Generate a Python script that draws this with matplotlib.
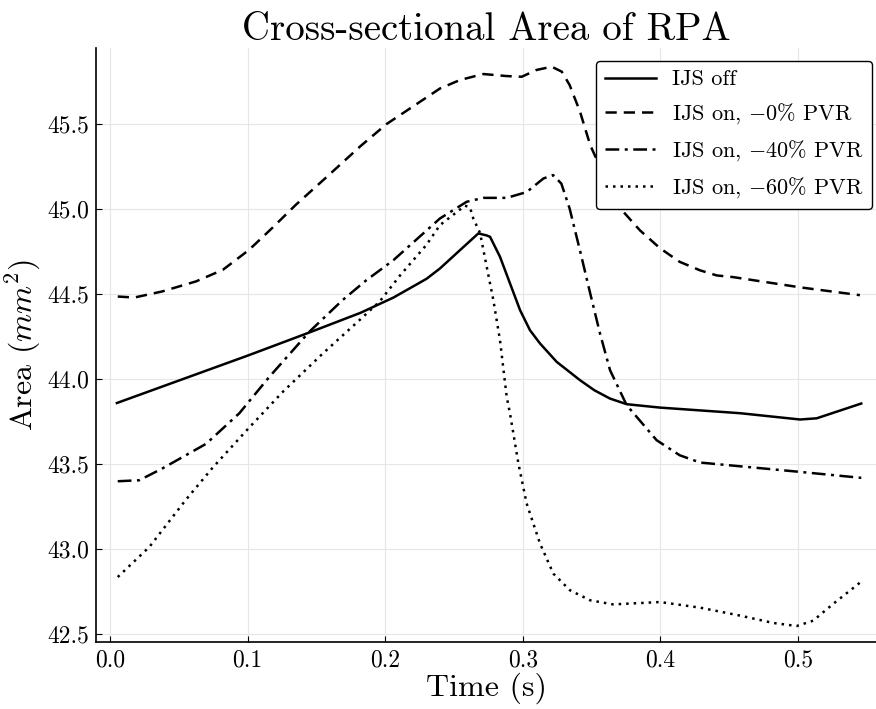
import numpy as np
import matplotlib.pyplot as plt

plt.rcParams["font.family"] = "serif"
plt.rcParams["font.serif"] = ["cmr10"]
plt.rcParams["mathtext.fontset"] = "cm"
plt.rcParams["axes.formatter.use_mathtext"] = True
plt.rcParams["axes.unicode_minus"] = True

# IJS off
t_off = [0.005, 0.1005, 0.145, 0.182, 0.206, 0.230, 0.2398, 0.2544, 0.2677, 0.2738,
         0.2762, 0.2834, 0.2907, 0.2980, 0.3052, 0.3125, 0.3246, 0.3416, 0.352, 0.3634,
         0.3755, 0.3997, 0.458, 0.5015, 0.5136, 0.546]
a_off = [43.86, 44.14, 44.275, 44.39, 44.48, 44.59, 44.651, 44.759, 44.857, 44.845,
         44.837, 44.72, 44.563, 44.406, 44.288, 44.21, 44.102, 43.994, 43.935, 43.886,
         43.853, 43.833, 43.80, 43.763, 43.77, 43.857]

# IJS on, -0% PVR
t_0 = [0.0056, 0.0177, 0.038, 0.0625, 0.082, 0.101, 0.118, 0.135, 0.159, 0.182,
       0.201, 0.2398, 0.2544, 0.2713, 0.2883, 0.2992, 0.310, 0.321, 0.3283, 0.334,
       0.3416, 0.349, 0.361, 0.372, 0.385, 0.3997, 0.414, 0.4288, 0.4409, 0.453,
       0.5015, 0.545]
a_0 = [44.486, 44.48, 44.516, 44.575, 44.643, 44.76, 44.89, 45.025, 45.20, 45.37,
       45.50, 45.709, 45.759, 45.794, 45.782, 45.778, 45.818, 45.837, 45.808, 45.73,
       45.572, 45.376, 45.16, 44.994, 44.876, 44.77, 44.69, 44.64, 44.61, 44.60,
       44.54, 44.494]

# IJS on, -40% PVR
t_40 = [0.0056, 0.0213, 0.038, 0.0698, 0.094, 0.1158, 0.145, 0.169, 0.186, 0.206,
        0.2398, 0.2592, 0.2713, 0.2883, 0.3028, 0.315, 0.322, 0.328, 0.334, 0.3416,
        0.349, 0.3561, 0.3634, 0.3755, 0.3973, 0.414, 0.4288, 0.5015, 0.546]
a_40 = [43.40, 43.406, 43.475, 43.62, 43.80, 44.014, 44.28, 44.465, 44.58, 44.70,
        44.945, 45.043, 45.066, 45.066, 45.10, 45.18, 45.20, 45.15, 45.004, 44.755,
        44.504, 44.269, 44.053, 43.847, 43.641, 43.553, 43.51, 43.455, 43.42]

# IJS on, -60% PVR
t_60 = [0.0056, 0.0286, 0.055, 0.0746, 0.1005, 0.1255, 0.1545, 0.1817, 0.196, 0.2108,
        0.230, 0.2398, 0.2580, 0.2616, 0.264, 0.2689, 0.2738, 0.2786, 0.2834, 0.2883,
        0.2907, 0.2968, 0.3028, 0.3125, 0.3222, 0.3343, 0.349, 0.3658, 0.3997, 0.4288,
        0.458, 0.482, 0.499, 0.511, 0.5257, 0.546]
a_60 = [42.837, 43.014, 43.29, 43.48, 43.71, 43.925, 44.15, 44.35, 44.457, 44.61,
        44.79, 44.906, 45.02, 45.01, 44.945, 44.86, 44.66, 44.465, 44.23, 43.896,
        43.798, 43.504, 43.269, 43.034, 42.857, 42.759, 42.70, 42.676, 42.69, 42.657,
        42.61, 42.567, 42.549, 42.58, 42.68, 42.81]

fig = plt.figure(figsize=(8.76, 7.09), dpi=100)
ax = fig.add_axes([96 / 876, 1 - 642 / 709, 1 - 96 / 876, (642 - 48) / 709])

lw = 1.8
ax.plot(t_off, a_off, color="black", lw=lw, ls="-", label="IJS off")
ax.plot(t_0, a_0, color="black", lw=lw, ls=(0, (4.5, 2.8)), label="IJS on, $-$0% PVR")
ax.plot(t_40, a_40, color="black", lw=lw, ls=(0, (5.5, 2.2, 1.2, 2.2)), label="IJS on, $-$40% PVR")
ax.plot(t_60, a_60, color="black", lw=lw, ls=(0, (1.0, 2.0)), label="IJS on, $-$60% PVR")

ax.set_xlim(-0.0102, 0.5567)
ax.set_ylim(42.455, 45.947)
ax.set_xticks([0.0, 0.1, 0.2, 0.3, 0.4, 0.5])
ax.set_yticks([42.5, 43.0, 43.5, 44.0, 44.5, 45.0, 45.5])
ax.set_xticklabels(["0.0", "0.1", "0.2", "0.3", "0.4", "0.5"])
ax.set_yticklabels(["42.5", "43.0", "43.5", "44.0", "44.5", "45.0", "45.5"])

ax.grid(True, color="#e6e6e6", lw=0.8)
ax.set_axisbelow(True)
ax.spines["top"].set_visible(False)
ax.spines["right"].set_visible(False)
ax.spines["left"].set_linewidth(1.2)
ax.spines["bottom"].set_linewidth(1.2)
ax.tick_params(direction="in", length=4, width=0.8, labelsize=17, pad=5)

ax.set_title("Cross-sectional Area of RPA", fontsize=28, pad=5)
ax.set_xlabel("Time (s)", fontsize=23, labelpad=1)
ax.set_ylabel("Area ($mm^2$)", fontsize=23, labelpad=3)

leg = ax.legend(loc="upper right", bbox_to_anchor=(872 / 876, 1 - 61 / 709),
                bbox_transform=fig.transFigure, fontsize=16, frameon=True,
                fancybox=True, edgecolor="black", framealpha=1, handlelength=2.3,
                borderpad=0.4, labelspacing=0.55, handletextpad=0.7, borderaxespad=0)
leg.get_frame().set_linewidth(1.0)

plt.savefig("out.png", dpi=100)
